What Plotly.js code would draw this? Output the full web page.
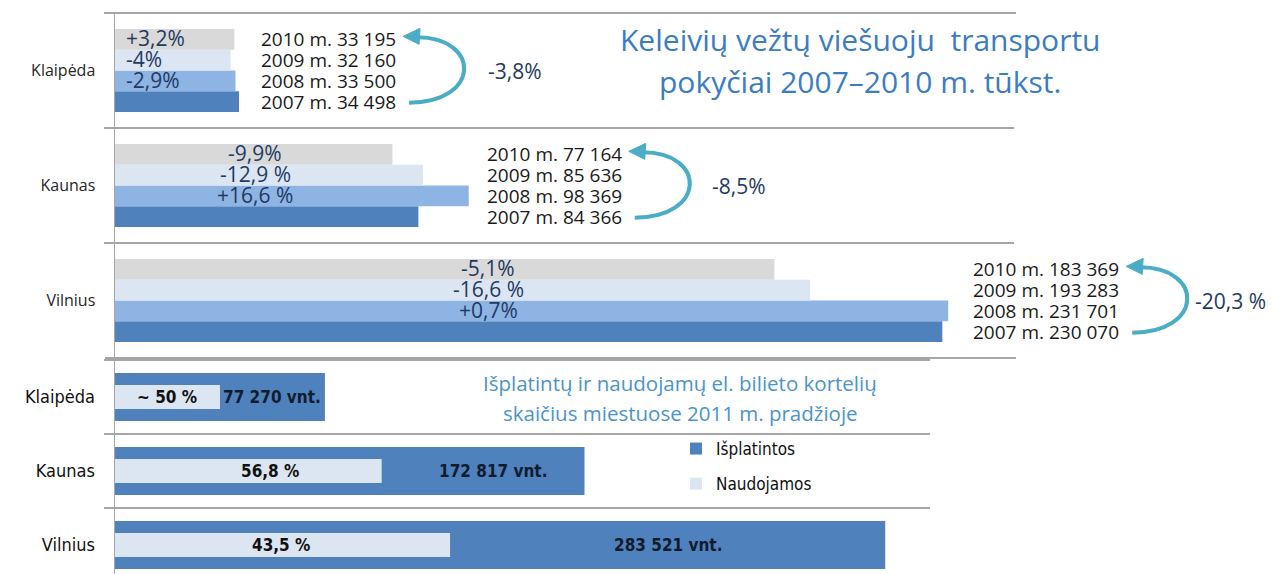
<!DOCTYPE html>
<html><head><meta charset="utf-8">
<script src="https://cdn.plot.ly/plotly-3.0.1.min.js"></script>
<style>html,body{margin:0;padding:0;background:#fff}#chart{width:1274px;height:574px}</style>
</head><body><div id="chart"></div>
<script>
// ---------------- DATA ----------------
const cities = ['Klaipėda', 'Kaunas', 'Vilnius'];
const years = ['2007', '2008', '2009', '2010'];
const passengers2007 = [34498, 84366, 230070];
const passengers2008 = [33500, 98369, 231701];
const passengers2009 = [32160, 85636, 193283];
const passengers2010 = [33195, 77164, 183369];
const change2008 = ['-2,9%', '+16,6 %', '+0,7%'];
const change2009 = ['-4%', '-12,9 %', '-16,6 %'];
const change2010 = ['+3,2%', '-9,9%', '-5,1%'];
const change2007to2010 = ['-3,8%', '-8,5%', '-20,3 %'];
const cardsIssued = [77270, 172817, 283521];
const cardsUsed = [38635, 98160, 123330];
const cardsUsedShareLabels = ['~ 50 %', '56,8 %', '43,5 %'];
const cardSeriesNames = ['Išplatintos', 'Naudojamos'];
const topTitleLines = ['Keleivių vežtų viešuoju\u00a0 transportu', 'pokyčiai 2007–2010 m. tūkst.'];
const bottomTitleLines = ['Išplatintų ir naudojamų el. bilieto kortelių', 'skaičius miestuose 2011 m. pradžioje'];

// ---------------- LAYOUT CONSTANTS / STYLE ----------------
const W = 1274, H = 574;
const TOP = {l: 115, r: 1014, t: 13, b: 358};
const BOT = {l: 115, r: 930, t: 360, b: 574};
const TOP_XMAX = 250000, BOT_XMAX = 300000;
const BOT_CAT_PX = 74;
const BAR_W = 0.1805;
const yearColors = ['#4f81bd', '#8eb4e3', '#dce6f2', '#d9d9d9'];
const cardColors = ['#4f81bd', '#dce6f2'];
const gridCol = '#a6a6a6';
const navy = '#1f3a63';
const arrowCol = '#4bacc6';
const fontMain = '"Open Sans", Lato, sans-serif';
const fontNarrow = '"DejaVu Sans Condensed", "Liberation Sans Narrow", sans-serif';
const catOrder = cities.slice().reverse(); // bottom -> top
const pctLabelPos = [{px: 124, anchor: 'left'}, {px: 255, anchor: 'center'}, {px: 488, anchor: 'center'}];
const yearLabelGap = [159, 155, 173];
const totalLabelGap = [22, 20, 6];
const usedLabelShift = [0, 22, -2];
const issuedLabelShift = [0, 10, 0];

const topCatPx = (TOP.b - TOP.t) / 3;
function fmt(v) { return String(v).replace(/\B(?=(\d{3})+(?!\d))/g, ' '); }
function topXpx(v) { return TOP.l + v * (TOP.r - TOP.l) / TOP_XMAX; }
function topXdata(px) { return (px - TOP.l) * TOP_XMAX / (TOP.r - TOP.l); }
function catIdx(ci) { return catOrder.indexOf(cities[ci]); }
function barOffset(j) { return -2 * BAR_W + j * BAR_W; }
function topYpx(ci, j) { return TOP.b - (catIdx(ci) + 0.5 + barOffset(j) + BAR_W / 2) * topCatPx; }
function pX(px) { return px / W; }
function pY(py) { return 1 - py / H; }

const yearSeries = [passengers2007, passengers2008, passengers2009, passengers2010];
const changeSeries = [null, change2008, change2009, change2010];

// ---------------- TRACES ----------------
const traces = [];
yearSeries.forEach((vals, j) => {
  traces.push({
    type: 'bar', orientation: 'h', name: years[j],
    y: cities, x: vals, xaxis: 'x', yaxis: 'y',
    width: BAR_W, offset: barOffset(j),
    marker: {color: yearColors[j], line: {width: 0}},
    showlegend: false, hoverinfo: 'skip'
  });
});
traces.push({
  type: 'bar', orientation: 'h', name: cardSeriesNames[0],
  y: cities, x: cardsIssued, xaxis: 'x2', yaxis: 'y2', width: 0.65,
  marker: {color: cardColors[0], line: {width: 0}},
  legendgroup: 'a', showlegend: true, hoverinfo: 'skip'
});
traces.push({
  type: 'bar', orientation: 'h', name: cardSeriesNames[1],
  y: cities, x: cardsUsed, xaxis: 'x2', yaxis: 'y2', width: 0.325,
  marker: {color: cardColors[1], line: {width: 0}},
  legendgroup: 'b', showlegend: true, hoverinfo: 'skip'
});

// ---------------- ANNOTATIONS & SHAPES ----------------
const annotations = [];
const shapes = [];

[[TOP.t, 105, 1016], [TOP.b, 105, 1016], [BOT.t, 105, 930]].forEach(([py, x0, x1]) => {
  shapes.push({type: 'line', xref: 'paper', yref: 'paper', x0: pX(x0), x1: pX(x1), y0: pY(py), y1: pY(py),
    line: {color: gridCol, width: 2}});
});

cities.forEach((c, ci) => {
  for (let j = 1; j < 4; j++) {
    annotations.push({
      xref: 'x', yref: 'paper', x: topXdata(pctLabelPos[ci].px), xanchor: pctLabelPos[ci].anchor,
      y: pY(topYpx(ci, j) - 1), yanchor: 'middle', showarrow: false,
      text: changeSeries[j][ci], font: {family: fontMain, size: 21, color: navy}
    });
  }
  const maxV = Math.max(...yearSeries.map(s => s[ci]));
  const rightPx = topXpx(maxV) + yearLabelGap[ci];
  for (let j = 0; j < 4; j++) {
    annotations.push({
      xref: 'paper', yref: 'paper', x: pX(rightPx), xanchor: 'right',
      y: pY(topYpx(ci, j)), yanchor: 'middle', showarrow: false,
      text: years[j] + ' m. ' + fmt(yearSeries[j][ci]),
      font: {family: fontMain, size: 19, color: '#1a1a1a'}
    });
  }
  const x0 = rightPx + 5;
  const yb = topYpx(ci, 0) + 1, yt = topYpx(ci, 3) - 2;
  const w = 78;
  const bulge = 0.125 * 6 + 0.75 * w + 0.125 * 14;
  const path = `M${pX(x0 + 6)},${pY(yb)} C${pX(x0 + w)},${pY(yb)} ${pX(x0 + w)},${pY(yt)} ${pX(x0 + 14)},${pY(yt)}`;
  shapes.push({type: 'path', xref: 'paper', yref: 'paper', path: path, line: {color: arrowCol, width: 4}});
  const head = `M${pX(x0)},${pY(yt - 1)} L${pX(x0 + 17)},${pY(yt - 9)} L${pX(x0 + 16)},${pY(yt + 7)} Z`;
  shapes.push({type: 'path', xref: 'paper', yref: 'paper', path: head, fillcolor: arrowCol, line: {color: arrowCol, width: 1}});
  annotations.push({
    xref: 'paper', yref: 'paper', x: pX(x0 + bulge + totalLabelGap[ci]), xanchor: 'left',
    y: pY(TOP.b - (catIdx(ci) + 0.5) * topCatPx), yanchor: 'middle', showarrow: false,
    text: change2007to2010[ci], font: {family: fontMain, size: 21, color: navy}
  });
  annotations.push({
    xref: 'x2', yref: 'y2', x: cardsUsed[ci] / 2, y: c, xanchor: 'center', xshift: usedLabelShift[ci],
    showarrow: false, text: '<b>' + cardsUsedShareLabels[ci] + '</b>',
    font: {family: fontNarrow, size: 17, color: '#111'}
  });
  annotations.push({
    xref: 'x2', yref: 'y2', x: (cardsUsed[ci] + cardsIssued[ci]) / 2, y: c, xanchor: 'center', xshift: issuedLabelShift[ci],
    showarrow: false, text: '<b>' + fmt(cardsIssued[ci]) + ' vnt.</b>',
    font: {family: fontNarrow, size: 17, color: '#0f1c2e'}
  });
});

[40, 82].forEach((py, i) => annotations.push({
  xref: 'paper', yref: 'paper', x: pX(860), y: pY(py), xanchor: 'center', yanchor: 'middle',
  showarrow: false, text: topTitleLines[i], font: {family: fontMain, size: 30, color: '#3b7cc2'}
}));
[383, 413].forEach((py, i) => annotations.push({
  xref: 'paper', yref: 'paper', x: pX(680), y: pY(py), xanchor: 'center', yanchor: 'middle',
  showarrow: false, text: bottomTitleLines[i], font: {family: fontMain, size: 20.5, color: '#4a93cd'}
}));

// ---------------- LAYOUT ----------------
const yCommon = {
  type: 'category', categoryorder: 'array', categoryarray: catOrder,
  tickson: 'boundaries', ticks: 'outside', ticklen: 10, tickwidth: 2, tickcolor: gridCol,
  showgrid: true, gridcolor: gridCol, gridwidth: 2,
  showline: true, linecolor: gridCol, linewidth: 1.5, zeroline: false,
  ticklabelstandoff: 15, fixedrange: true
};
const layout = {
  width: W, height: H, margin: {l: 0, r: 0, t: 0, b: 0},
  paper_bgcolor: '#fff', plot_bgcolor: 'rgba(0,0,0,0)',
  barmode: 'overlay', showlegend: true,
  xaxis: {domain: [pX(TOP.l), pX(TOP.r)], range: [0, TOP_XMAX], visible: false, fixedrange: true},
  yaxis: Object.assign({}, yCommon, {domain: [pY(TOP.b), pY(TOP.t)], range: [-0.5, 2.5],
    tickfont: {family: fontMain, size: 16, color: '#262626'}, anchor: 'x'}),
  xaxis2: {domain: [pX(BOT.l), pX(BOT.r)], range: [0, BOT_XMAX], visible: false, fixedrange: true, anchor: 'y2'},
  yaxis2: Object.assign({}, yCommon, {domain: [0, pY(BOT.t)],
    range: [2.5 - (BOT.b - BOT.t) / BOT_CAT_PX, 2.5],
    tickfont: {family: fontNarrow, size: 18, color: '#111'}, anchor: 'x2'}),
  legend: {x: pX(676), y: pY(431), xanchor: 'left', yanchor: 'top', bgcolor: 'rgba(0,0,0,0)',
    traceorder: 'grouped', tracegroupgap: 10, font: {family: fontNarrow, size: 17, color: '#111'}},
  annotations: annotations, shapes: shapes
};
Plotly.newPlot('chart', traces, layout, {displayModeBar: false, staticPlot: true});
</script></body></html>
